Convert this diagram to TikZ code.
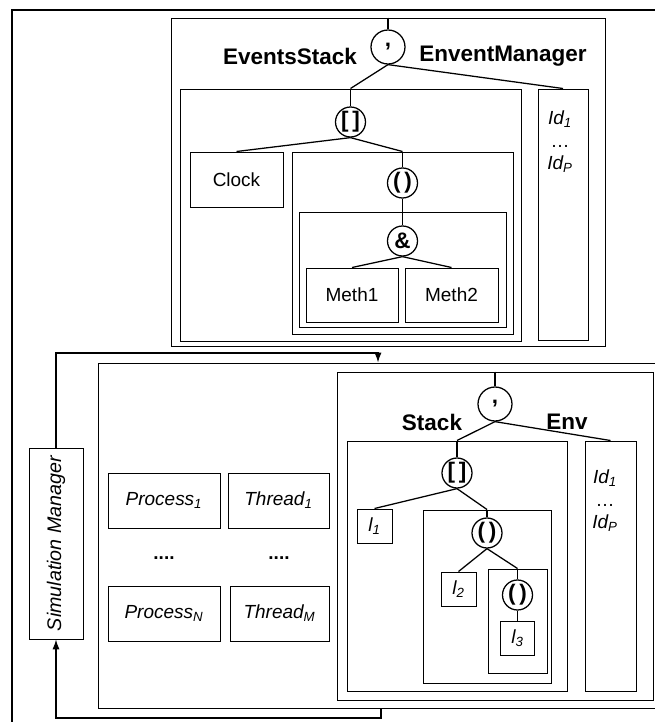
\documentclass[tikz,border=0pt]{standalone}
\usepackage{fontspec}
\setmainfont{Liberation Sans}
\usetikzlibrary{arrows.meta,positioning}
\newcommand{\ix}[2]{\textit{#1\textsubscript{#2}}}

\begin{document}
\begin{tikzpicture}[font=\fontsize{13.5}{16}\selectfont,
      bx/.style={draw,line width=.7pt,inner sep=0pt},
      op/.style={draw,circle,line width=.9pt,inner sep=0pt,minimum size=.75cm,font=\fontsize{16}{16}\selectfont\bfseries},
      lab/.style={font=\fontsize{16}{18}\selectfont\bfseries},
      ln/.style={line width=.9pt},
      a/.style={-{Latex[length=7pt,width=5pt]},line width=.8pt}]
      \useasboundingbox (0,0) rectangle (16.375,-18.05);
      \draw[line width=.8pt] (0.3,-18.5)--(0.3,-0.25)--(16.8,-0.25);
      % event manager part
      \node[bx,minimum width=10.85cm,minimum height=8.2cm] (evbox) at (9.7,-4.55) {};
      \node[op,minimum size=.85cm] (cm1) at (9.7,-1.175) {,};
      \node[lab] (evstack) at (7.25,-1.4) {EventsStack};
      \node[lab] (evman) at (12.575,-1.4) {EnventManager};
      \node[bx,minimum width=8.525cm,minimum height=6.3cm] (esbox) at (8.7625,-5.375) {};
      \node[bx,minimum width=1.25cm,minimum height=6.275cm] (idbox1) at (14.075,-5.3625) {};
      \node[align=center] (ids1) at (14.0,-3.55) {\ix{Id}{1}\\\dots\\\ix{Id}{P}};
      \node[op] (bk1) at (8.7625,-3.05) {[\,]};
      \node[bx,minimum width=2.325cm,minimum height=1.375cm] (clock) at (5.9125,-4.4875) {Clock};
      \node[bx,minimum width=5.525cm,minimum height=4.55cm] (pbox1) at (10.0625,-6.075) {};
      \node[op] (pr1) at (10.0625,-4.575) {(\,)};
      \node[bx,minimum width=5.175cm,minimum height=2.875cm] (ampbox) at (10.0625,-6.7375) {};
      \node[op] (amp) at (10.0625,-6.025) {\&};
      \node[bx,minimum width=2.3cm,minimum height=1.35cm] (meth1) at (8.8,-7.375) {Meth1};
      \node[bx,minimum width=2.325cm,minimum height=1.35cm] (meth2) at (11.2875,-7.375) {Meth2};
      \draw[ln] (evbox.north)--(cm1.north);
      \draw[ln] (cm1.south)--(esbox.north);
      \draw[ln] (cm1.south)--(idbox1.north);
      \draw[ln] (esbox.north)--(bk1.north);
      \draw[ln] (bk1.south)--(clock.north);
      \draw[ln] (bk1.south)--(pbox1.north);
      \draw[ln] (pbox1.north)--(pr1.north);
      \draw[ln] (pr1.south)--(ampbox.north);
      \draw[ln] (ampbox.north)--(amp.north);
      \draw[ln] (amp.south)--(meth1.north);
      \draw[ln] (amp.south)--(meth2.north);
      % simulation part
      \node[bx,rotate=90,minimum width=4.775cm,minimum height=1.35cm,font=\fontsize{14}{16}\selectfont\itshape] (simman) at (1.4,-13.5875) {Simulation Manager};
      \node[bx,minimum width=14.55cm,minimum height=8.625cm] (bigbox) at (9.725,-13.3875) {};
      \node[bx,minimum width=2.8cm,minimum height=1.375cm] (proc1) at (4.1,-12.5125) {\ix{Process}{1}};
      \node[bx,minimum width=2.525cm,minimum height=1.375cm] (thr1) at (6.9625,-12.5125) {\ix{Thread}{1}};
      \node[font=\fontsize{13.5}{16}\selectfont\bfseries] (pdots) at (4.1,-13.95) {....};
      \node[font=\fontsize{13.5}{16}\selectfont\bfseries] (tdots) at (6.975,-13.95) {....};
      \node[bx,minimum width=2.8cm,minimum height=1.375cm] (procn) at (4.1,-15.3375) {\ix{Process}{N}};
      \node[bx,minimum width=2.475cm,minimum height=1.375cm] (thrm) at (6.9875,-15.3375) {\ix{Thread}{M}};
      \node[bx,minimum width=7.9cm,minimum height=8.2cm] (frame) at (12.375,-13.4) {};
      \node[op,minimum size=.85cm] (cm2) at (12.375,-10.1) {,};
      \node[lab] (stack) at (10.8,-10.55) {Stack};
      \node[lab] (env) at (14.175,-10.55) {Env};
      \node[bx,minimum width=5.5cm,minimum height=6.25cm] (stbox) at (11.425,-14.15) {};
      \node[bx,minimum width=1.275cm,minimum height=6.25cm] (envbox) at (15.2625,-14.15) {};
      \node[align=center] (ids2) at (15.125,-12.525) {\ix{Id}{1}\\\dots\\\ix{Id}{P}};
      \node[op] (bk2) at (11.425,-11.825) {[\,]};
      \node[bx,minimum width=.875cm,minimum height=.85cm] (l1) at (9.3625,-13.15) {\ix{l}{1}};
      \node[bx,minimum width=3.2cm,minimum height=4.325cm] (pbox2) at (12.175,-14.9125) {};
      \node[op] (pr2) at (12.175,-13.325) {(\,)};
      \node[bx,minimum width=.875cm,minimum height=.85cm] (l2) at (11.4625,-14.725) {\ix{l}{2}};
      \node[bx,minimum width=1.475cm,minimum height=2.6cm] (pbox3) at (12.9375,-15.525) {};
      \node[op] (pr3) at (12.9375,-14.875) {(\,)};
      \node[bx,minimum width=.85cm,minimum height=.85cm] (l3) at (12.9375,-15.95) {\ix{l}{3}};
      \draw[ln] (frame.north)--(cm2.north);
      \draw[ln] (cm2.south)--(stbox.north);
      \draw[ln] (cm2.south)--(envbox.north);
      \draw[ln] (stbox.north)--(bk2.north);
      \draw[ln] (bk2.south)--(l1.north);
      \draw[ln] (bk2.south)--(pbox2.north);
      \draw[ln] (pbox2.north)--(pr2.north);
      \draw[ln] (pr2.south)--(l2.north);
      \draw[ln] (pr2.south)--(pbox3.north);
      \draw[ln] (pbox3.north)--(pr3.north);
      \draw[ln] (pr3.south)--(l3.north);
      \coordinate (in-pt) at (9.45,-8.825);
      \coordinate (out-pt) at (9.525,-17.95);
      \draw[a] (simman.east) |- (in-pt)--(in-pt |- bigbox.north);
      \draw[a] (out-pt |- bigbox.south)--(out-pt) -| (simman.west);
    \end{tikzpicture}
\end{document}
